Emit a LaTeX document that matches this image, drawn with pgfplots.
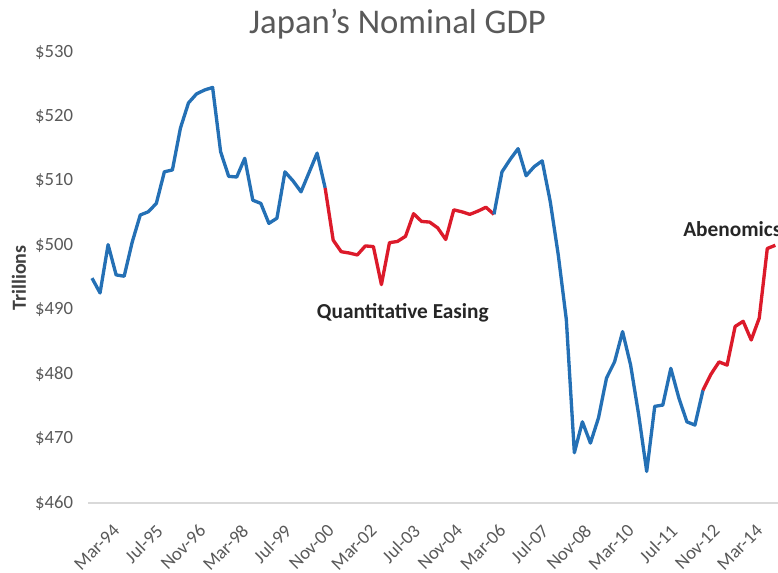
\documentclass[border=0pt]{standalone}
\usepackage{pgfplots}
\pgfplotsset{compat=1.18}
\usepackage{pgfplotstable}
\usepackage{fontspec}
\setmainfont{Carlito}
\definecolor{gdpblue}{HTML}{2470B5}
\definecolor{gdpred}{HTML}{DC1A2A}
\definecolor{txtgray}{HTML}{595959}
\definecolor{axgray}{HTML}{D9D9D9}
\pgfplotstableread{
m v
0 494.9
3 492.6
6 500.1
9 495.4
12 495.2
15 500.5
18 504.7
21 505.2
24 506.5
27 511.4
30 511.7
33 518.2
36 522.1
39 523.5
42 524.1
45 524.5
48 514.5
51 510.7
54 510.6
57 513.5
60 507.0
63 506.5
66 503.4
69 504.2
72 511.4
75 510.0
78 508.3
81 511.3
84 514.3
87 508.9
90 500.8
93 499.0
96 498.8
99 498.5
102 499.9
105 499.8
108 493.9
111 500.4
114 500.6
117 501.4
120 504.9
123 503.7
126 503.6
129 502.7
132 500.9
135 505.5
138 505.2
141 504.8
144 505.3
147 505.9
150 504.8
153 511.4
156 513.3
159 515.0
162 510.8
165 512.2
168 513.1
171 506.8
174 498.5
177 488.5
180 467.8
183 472.6
186 469.3
189 473.2
192 479.4
195 481.9
198 486.6
201 481.4
204 473.7
207 464.9
210 475.0
213 475.2
216 480.9
219 476.3
222 472.6
225 472.1
228 477.5
231 480.0
234 481.9
237 481.4
240 487.4
243 488.2
246 485.3
249 488.7
252 499.5
255 500.0
}\gdp
\begin{document}
\begin{tikzpicture}
\useasboundingbox (0pt,0pt) rectangle (583.5pt,429.75pt);
\clip (0pt,0pt) rectangle (583.5pt,429.75pt);
\begin{axis}[
  at={(66pt,52.5pt)}, anchor=south west,
  width=517.5pt, height=338.25pt, scale only axis,
  xmin=-1.5, xmax=256, ymin=460, ymax=530,
  axis x line*=bottom, axis y line*=left,
  x axis line style={draw=axgray, line width=1pt, -},
  y axis line style={draw=none},
  tick style={draw=none},
  xtick={0,16,...,240},
  xticklabels={Mar-94,Jul-95,Nov-96,Mar-98,Jul-99,Nov-00,Mar-02,Jul-03,Nov-04,Mar-06,Jul-07,Nov-08,Mar-10,Jul-11,Nov-12,Mar-14},
  ytick={460,470,...,530},
  yticklabels={\$460,\$470,\$480,\$490,\$500,\$510,\$520,\$530},
  /pgf/number format/assume math mode=true,
  xticklabel style={font=\fontsize{14}{14}\selectfont, text=txtgray, xshift=15pt, yshift=-15pt, rotate=45, anchor=north east, inner sep=0pt},
  yticklabel style={font=\fontsize{14}{14}\selectfont, text=txtgray, anchor=east, inner sep=0pt, xshift=-11pt},
  clip=false,
]
\addplot[gdpblue, line width=2.5pt, line join=round, restrict x to domain=0:87] table[x=m,y=v]{\gdp};
\addplot[gdpred, line width=2.5pt, line join=round, restrict x to domain=87:150] table[x=m,y=v]{\gdp};
\addplot[gdpblue, line width=2.5pt, line join=round, restrict x to domain=150:228] table[x=m,y=v]{\gdp};
\addplot[gdpred, line width=2.5pt, line join=round, restrict x to domain=228:255] table[x=m,y=v]{\gdp};
\end{axis}
\node[text=txtgray, font=\fontsize{26}{26}\selectfont, inner sep=0pt] at (298.1pt,411.5pt) {Japan's Nominal GDP};
\node[text=black!85, font=\bfseries\fontsize{16}{16}\selectfont, inner sep=0pt, anchor=west] at (237.5pt,195pt) {Quantitative Easing};
\node[text=black!85, font=\bfseries\fontsize{16}{16}\selectfont, inner sep=0pt, anchor=west] at (512.25pt,258pt) {Abenomics};
\node[text=black!75, font=\bfseries\fontsize{15}{15}\selectfont, inner sep=0pt, rotate=90] at (14.25pt,221.25pt) {Trillions};
\end{tikzpicture}
\end{document}
